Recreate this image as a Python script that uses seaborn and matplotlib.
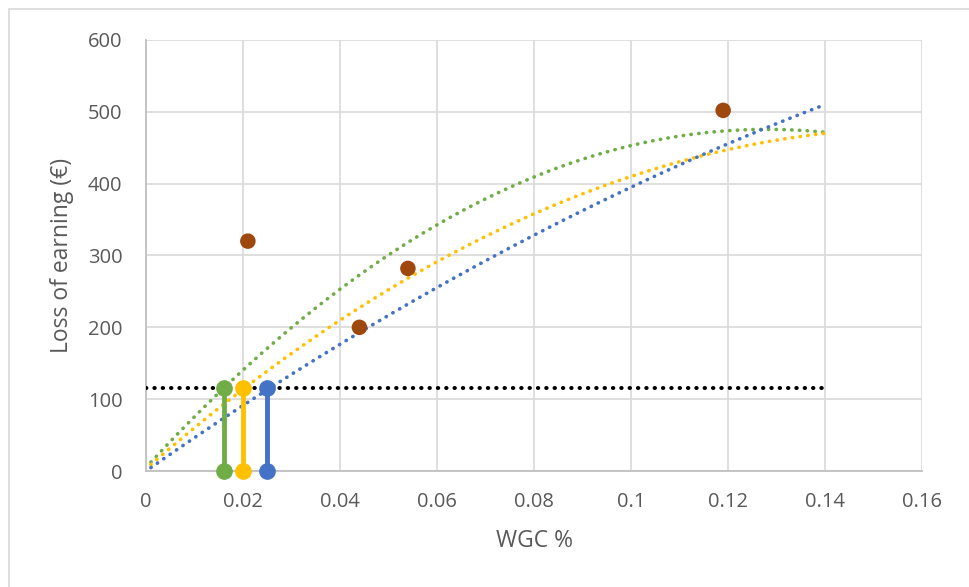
import numpy as np
import pandas as pd
import seaborn as sns
import matplotlib.pyplot as plt
from matplotlib.patches import Rectangle

# observed points
wgc_obs = [0.021, 0.044, 0.054, 0.119]
loss_obs = [320, 200, 282, 502]

# polynomial trend lines (c0 + c1*x + c2*x^2)
trend_names = ["green", "yellow", "blue"]
trend_c0 = [5, 3, 0]
trend_c1 = [7350, 5906, 4718]
trend_c2 = [-28700, -18357, -7679]
trend_colors = ["#70AD47", "#FFC000", "#4472C4"]

# threshold and where each trend crosses it
threshold = 115
cross_x = [0.016, 0.020, 0.025]

x_max = 0.14

sns.set_theme(style="white")
plt.rcParams['font.family'] = ['Open Sans', 'DejaVu Sans']

fig = plt.figure(figsize=(9.69, 5.87), dpi=100)
ax = fig.add_axes([0.1507, 0.1976, 0.8008, 0.7343])

xs = np.linspace(0.001, x_max, 200)
rows = []
for name, c0, c1, c2 in zip(trend_names, trend_c0, trend_c1, trend_c2):
    for x in xs:
        rows.append({"x": x, "y": c0 + c1 * x + c2 * x * x, "trend": name})
trends = pd.DataFrame(rows)

for name, col in zip(trend_names, trend_colors):
    sub = trends[trends.trend == name]
    sns.lineplot(data=sub, x="x", y="y", ax=ax, color=col, lw=2.6,
                 linestyle=(0, (0.1, 2.05)), dash_capstyle="round", zorder=3)

# threshold line
ax.plot([0, x_max], [threshold, threshold], color="black", lw=2.9,
        linestyle=(0, (0.1, 1.97)), dash_capstyle="round", zorder=4)

# stems
for cx, col in zip(cross_x, trend_colors):
    ax.plot([cx, cx], [0, threshold], color=col, lw=3.5, zorder=5,
            marker="o", markersize=11, clip_on=False)

obs = pd.DataFrame({"wgc": wgc_obs, "loss": loss_obs})
sns.scatterplot(data=obs, x="wgc", y="loss", ax=ax, color="#9E480E", s=125,
                edgecolor="none", zorder=6)

ax.set_xlim(0, 0.16)
ax.set_ylim(0, 600)
ax.set_xticks(np.arange(0, 0.161, 0.02))
ax.set_xticklabels(["0", "0.02", "0.04", "0.06", "0.08", "0.1", "0.12", "0.14", "0.16"])
ax.set_yticks(range(0, 601, 100))
ax.grid(True, color="#D9D9D9", lw=1.2)
ax.set_axisbelow(True)
for s in ["top", "right"]:
    ax.spines[s].set_visible(False)
for s in ["left", "bottom"]:
    ax.spines[s].set_color("#BFBFBF")
    ax.spines[s].set_linewidth(1.3)
ax.tick_params(axis="both", labelsize=14.5, colors="#595959", length=0)
ax.tick_params(axis="y", pad=17)
ax.tick_params(axis="x", pad=15)
ax.set_xlabel("WGC %", fontsize=16.5, color="#595959", labelpad=12)
ax.set_ylabel("Loss of earning (€)", fontsize=16.5, color="#595959", labelpad=10)

# chart area border
fig.patches.append(Rectangle((9 / 969, -0.1), 1.2, 1 - 9 / 587 + 0.1,
                             transform=fig.transFigure, fill=False,
                             edgecolor="#D9D9D9", lw=1.2))

fig.savefig("out.png", dpi=100)
